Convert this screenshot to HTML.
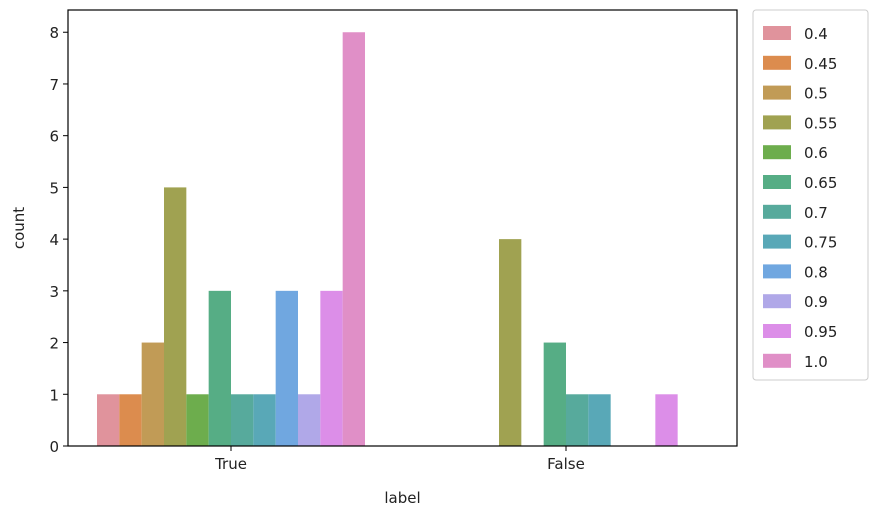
<!DOCTYPE html>
<html><head><meta charset="utf-8"><style>
body{margin:0;background:#fff;font-family:"DejaVu Sans","Liberation Sans",sans-serif;}
svg text{font-family:"DejaVu Sans","Liberation Sans",sans-serif;fill:#222;}
</style></head><body>
<svg id="chart" width="874" height="518" xmlns="http://www.w3.org/2000/svg"></svg>
<script>
const categories = ["True","False"];
const hues = ["0.4","0.45","0.5","0.55","0.6","0.65","0.7","0.75","0.8","0.9","0.95","1.0"];
const countsTrue = [1,1,2,5,1,3,1,1,3,1,3,8];
const countsFalse = [0,0,0,4,0,2,1,1,0,0,1,0];
const yTicks = [0,1,2,3,4,5,6,7,8];
const colors = ["#e0939c","#dc8c4e","#c19b56","#a0a251","#6dad4d","#56ad85","#57aa9c","#59a8b7","#70a7e0","#b0a8e8","#dc8ee8","#e08fc7"];
const series = [countsTrue, countsFalse];
const NS="http://www.w3.org/2000/svg";
const svg=document.getElementById('chart');
const L=68,R=737,T=10,B=446;
const yMax=8.43;
const y=v=>B-(v/yMax)*(B-T);
const catW=335;
const xc=i=>231+catW*i;
const barW=catW*0.8/hues.length;
function mk(tag,attrs){const e=document.createElementNS(NS,tag);for(const k in attrs)e.setAttribute(k,attrs[k]);svg.appendChild(e);return e;}
series.forEach((vals,ci)=>{vals.forEach((v,hi)=>{if(!v)return;
const r=mk('rect',{x:xc(ci)-catW*0.4+hi*barW,y:y(v),width:barW,height:B-y(v),fill:colors[hi]});

});});
const frame=mk('rect',{x:L,y:T,width:R-L,height:B-T,fill:'none',stroke:'#000','stroke-width':1.2});


yTicks.forEach(t=>{mk('line',{x1:L-5,x2:L,y1:y(t),y2:y(t),stroke:'#000'});
const tx=mk('text',{x:L-9,y:y(t)+6,'text-anchor':'end','font-size':15});tx.textContent=t;

});
categories.forEach((c,i)=>{mk('line',{x1:xc(i),x2:xc(i),y1:B,y2:B+5,stroke:'#000'});
const tx=mk('text',{x:xc(i),y:B+23,'text-anchor':'middle','font-size':15});tx.textContent=c;

});
const xt=mk('text',{x:(L+R)/2,y:503,'text-anchor':'middle','font-size':15});xt.textContent='label';


const yt=mk('text',{x:24,y:(T+B)/2,'text-anchor':'middle','font-size':15,transform:'rotate(-90 24 '+((T+B)/2)+')'});yt.textContent='count';


const lg=mk('rect',{x:753,y:10,width:115,height:370,rx:3,fill:'#fff',stroke:'#ccc'});


hues.forEach((h,i)=>{const yy=33+i*29.8;
const sw=mk('rect',{x:763,y:yy-7,width:28,height:14,fill:colors[i]});


const tx=mk('text',{x:804,y:yy+6,'font-size':15});tx.textContent=h;

});
</script>
</body></html>
